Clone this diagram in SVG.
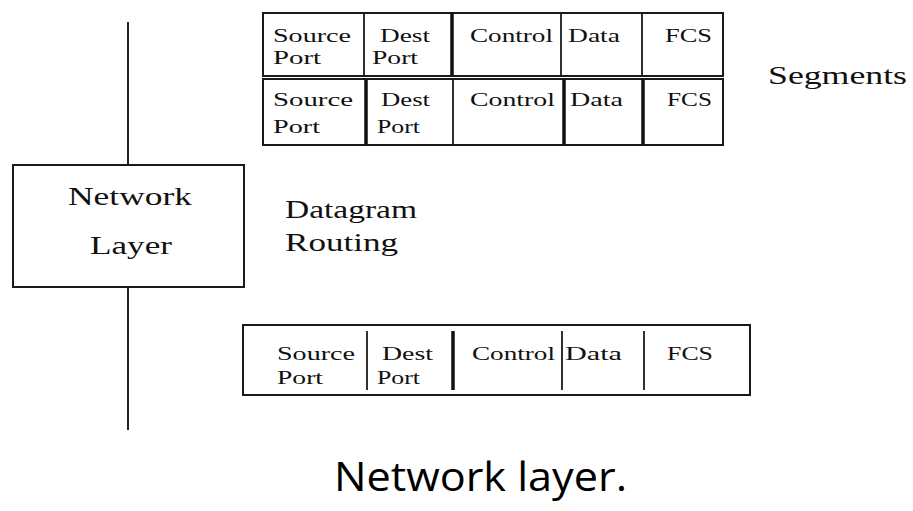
<svg xmlns="http://www.w3.org/2000/svg" width="913" height="511" viewBox="0 0 913 511">
<style>
.bg{fill:#fff}
.box{fill:#fff;stroke:#1a1a1a;stroke-width:2}
.thin{stroke:#1a1a1a;stroke-width:1.8}
.thick{stroke:#111;stroke-width:3.5}
.line{stroke:#222;stroke-width:2}
.t{font-family:"Liberation Serif","DejaVu Serif",serif;font-size:19px;fill:#111}
.m{font-family:"Liberation Serif","DejaVu Serif",serif;font-size:25px;fill:#111}
.cap{font-family:"Open Sans","Liberation Sans",sans-serif;font-size:40px;fill:#000}
</style>
<rect class="bg" x="0" y="0" width="913" height="511"/>
<g id="connectors">
<line class="line" x1="128" y1="22" x2="128" y2="165"/>
<line class="line" x1="128" y1="287" x2="128" y2="430"/>
</g>
<g id="network-layer">
<rect class="box" x="13" y="165" width="231" height="122"/>
<text class="m" x="68" y="205" textLength="124" lengthAdjust="spacingAndGlyphs">Network</text>
<text class="m" x="90" y="254" textLength="82" lengthAdjust="spacingAndGlyphs">Layer</text>
</g>
<g id="datagram-routing">
<text class="m" x="285" y="218" textLength="132" lengthAdjust="spacingAndGlyphs">Datagram</text>
<text class="m" x="285" y="251" textLength="113" lengthAdjust="spacingAndGlyphs">Routing</text>
</g>
<g id="segments-label">
<text class="m" x="768" y="84" textLength="139" lengthAdjust="spacingAndGlyphs">Segments</text>
</g>
<g id="segment-1">
<rect class="box" x="263" y="13" width="460" height="63"/>
<line class="thin" x1="364" y1="13" x2="364" y2="76"/>
<line class="thick" x1="452" y1="13" x2="452" y2="76"/>
<line class="thin" x1="561" y1="13" x2="561" y2="76"/>
<line class="thin" x1="642" y1="13" x2="642" y2="76"/>
<text class="t" x="273" y="42" textLength="78" lengthAdjust="spacingAndGlyphs">Source</text>
<text class="t" x="273" y="64" textLength="48" lengthAdjust="spacingAndGlyphs">Port</text>
<text class="t" x="380" y="42" textLength="50" lengthAdjust="spacingAndGlyphs">Dest</text>
<text class="t" x="372" y="64" textLength="46" lengthAdjust="spacingAndGlyphs">Port</text>
<text class="t" x="470" y="42" textLength="83" lengthAdjust="spacingAndGlyphs">Control</text>
<text class="t" x="568" y="42" textLength="52" lengthAdjust="spacingAndGlyphs">Data</text>
<text class="t" x="665" y="42" textLength="47" lengthAdjust="spacingAndGlyphs">FCS</text>
</g>
<g id="segment-2">
<rect class="box" x="263" y="79" width="460" height="66"/>
<line class="thick" x1="366" y1="79" x2="366" y2="145"/>
<line class="thin" x1="453" y1="79" x2="453" y2="145"/>
<line class="thick" x1="564" y1="79" x2="564" y2="145"/>
<line class="thick" x1="643" y1="79" x2="643" y2="145"/>
<text class="t" x="273" y="106" textLength="80" lengthAdjust="spacingAndGlyphs">Source</text>
<text class="t" x="273" y="133" textLength="47" lengthAdjust="spacingAndGlyphs">Port</text>
<text class="t" x="381" y="106" textLength="49" lengthAdjust="spacingAndGlyphs">Dest</text>
<text class="t" x="377" y="133" textLength="43" lengthAdjust="spacingAndGlyphs">Port</text>
<text class="t" x="470" y="106" textLength="85" lengthAdjust="spacingAndGlyphs">Control</text>
<text class="t" x="570" y="106" textLength="53" lengthAdjust="spacingAndGlyphs">Data</text>
<text class="t" x="667" y="106" textLength="45" lengthAdjust="spacingAndGlyphs">FCS</text>
</g>
<g id="segment-3">
<rect class="box" x="243" y="325" width="507" height="70"/>
<line class="thin" x1="367" y1="331" x2="367" y2="390"/>
<line class="thick" x1="453" y1="331" x2="453" y2="390"/>
<line class="thin" x1="562" y1="331" x2="562" y2="390"/>
<line class="thin" x1="644" y1="331" x2="644" y2="390"/>
<text class="t" x="277" y="360" textLength="78" lengthAdjust="spacingAndGlyphs">Source</text>
<text class="t" x="277" y="384" textLength="46" lengthAdjust="spacingAndGlyphs">Port</text>
<text class="t" x="382" y="360" textLength="51" lengthAdjust="spacingAndGlyphs">Dest</text>
<text class="t" x="377" y="384" textLength="43" lengthAdjust="spacingAndGlyphs">Port</text>
<text class="t" x="472" y="360" textLength="83" lengthAdjust="spacingAndGlyphs">Control</text>
<text class="t" x="565" y="360" textLength="57" lengthAdjust="spacingAndGlyphs">Data</text>
<text class="t" x="667" y="360" textLength="46" lengthAdjust="spacingAndGlyphs">FCS</text>
</g>
<g id="caption">
<text class="cap" x="334" y="491" textLength="293" lengthAdjust="spacingAndGlyphs">Network layer.</text>
</g>
</svg>
